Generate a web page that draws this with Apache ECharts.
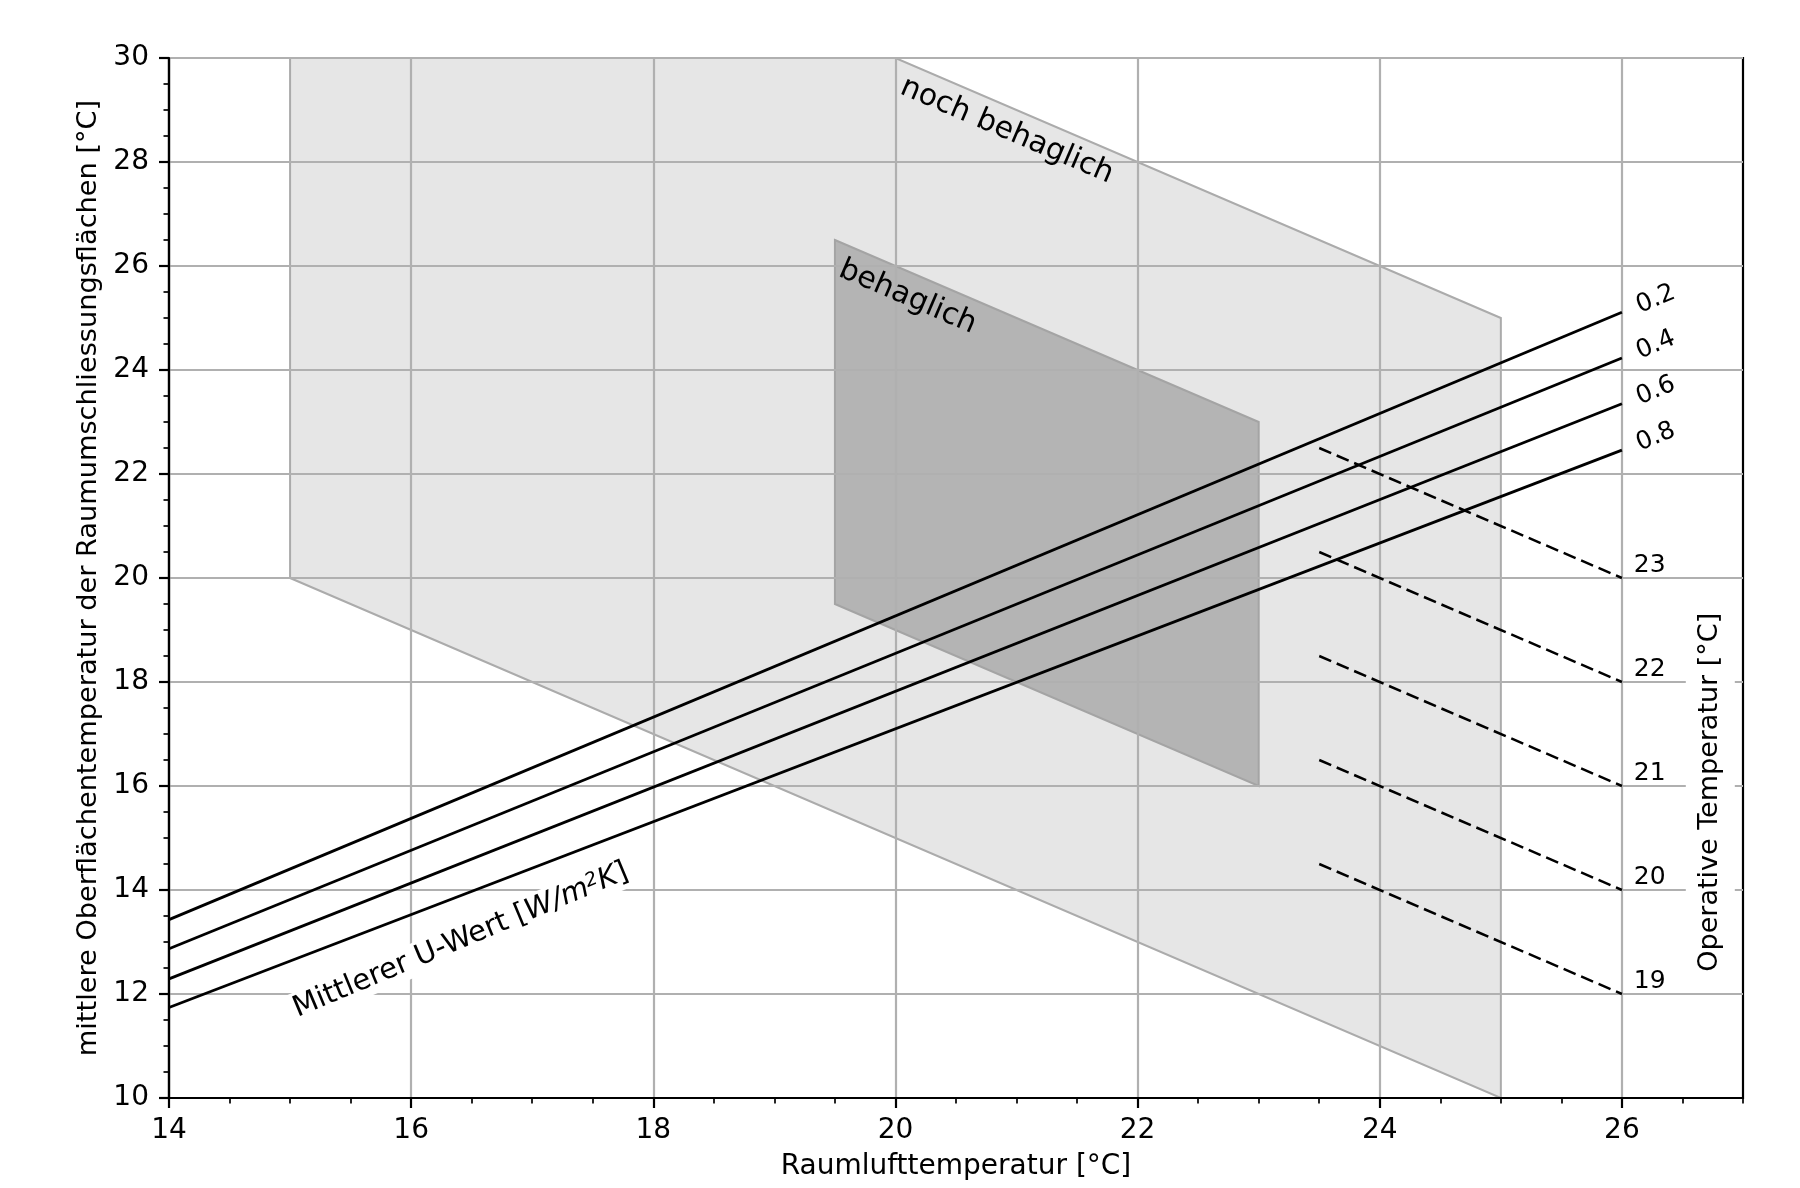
<!DOCTYPE html>
<html>
<head>
<meta charset="utf-8">
<script src="https://cdn.jsdelivr.net/npm/echarts@6/dist/echarts.min.js"></script>
<style>
html, body { margin: 0; padding: 0; background: #fff; }
#chart { width: 1800px; height: 1188px; }
</style>
</head>
<body>
<div id="chart"></div>
<script>
// Behaglichkeitsfelder: Raumluft- gegen Oberflaechentemperatur
var xTicks = [14, 16, 18, 20, 22, 24, 26];

// mittlerer U-Wert, Geraden von x=14 bis x=26
var uLabels = ['0.2', '0.4', '0.6', '0.8'];
var uX = [14, 26];
var uStart = [13.43, 12.87, 12.29, 11.74];
var uEnd = [25.11, 24.23, 23.35, 22.46];

// operative Temperatur, gestrichelt von x=23.5 bis x=26
var opLabels = ['23', '22', '21', '20', '19'];
var opX = [23.5, 26];
var opStart = [22.5, 20.5, 18.5, 16.5, 14.5];
var opEnd = [20, 18, 16, 14, 12];

// Flaechen
var nochBehaglich = [[15, 30], [20, 30], [25, 25], [25, 10], [15, 20]];
var behaglich = [[19.5, 26.5], [23, 23], [23, 16], [19.5, 19.5]];

var FONT = 'DejaVu Sans';
var myChart = echarts.init(document.getElementById('chart'));

function polygonSeries (points, fill, stroke) {
    return {
        type: 'custom',
        z: -1,
        silent: true,
        data: points,
        renderItem: function (params, api) {
            if (params.dataIndex !== 0) return null;
            return {
                type: 'polygon',
                shape: { points: points.map(function (p) { return api.coord(p); }) },
                style: { fill: fill, stroke: stroke, lineWidth: 2 }
            };
        }
    };
}

var series = [
    polygonSeries(nochBehaglich, '#e6e6e6', '#ababab'),
    polygonSeries(behaglich, '#b4b4b4', '#a4a4a4')
];

uLabels.forEach(function (u, i) {
    series.push({
        type: 'line', name: 'U ' + u, symbol: 'none', silent: true,
        lineStyle: { color: '#000', width: 2.8 },
        data: [[uX[0], uStart[i]], [uX[1], uEnd[i]]]
    });
});
opLabels.forEach(function (t, i) {
    series.push({
        type: 'line', name: 'Top ' + t, symbol: 'none', silent: true,
        lineStyle: { color: '#000', width: 2.5, type: [13, 6] },
        data: [[opX[0], opStart[i]], [opX[1], opEnd[i]]]
    });
});

// Beschriftungen
var notes = [
    { value: [20.92, 28.6], text: 'noch behaglich', label: { rotate: -23.2 } },
    { value: [20.1, 25.4], text: 'behaglich', label: { rotate: -23.2 } },
    { value: [16.41, 13.03], text: 'Mittlerer U-Wert [{it|W/m}{sup|2}{it|K}]',
      label: { rotate: 22.7, fontSize: 29, backgroundColor: '#fff', padding: [2, 6] } },
    { value: [26.73, 15.88], text: 'Operative Temperatur [°C]',
      label: { rotate: 90, fontSize: 27, backgroundColor: '#fff', padding: [11, 6] } }
];
uLabels.forEach(function (u, i) {
    notes.push({ value: [26.28, uEnd[i] + 0.25], text: u, label: { rotate: 22.7, fontSize: 25 } });
});
opLabels.forEach(function (t, i) {
    notes.push({ value: [26.23, opEnd[i] + 0.24], text: t, label: { fontSize: 25 } });
});

series.push({
    type: 'scatter', symbolSize: 0, silent: true, z: 5,
    itemStyle: { opacity: 1 },
    data: notes,
    label: {
        show: true, position: 'inside', color: '#000', opacity: 1,
        textBorderWidth: 0, textShadowBlur: 0,
        fontFamily: FONT, fontSize: 30,
        formatter: function (p) { return p.data.text; },
        rich: {
            it: { fontFamily: FONT, fontSize: 29, fontStyle: 'italic', color: '#000', textBorderWidth: 0 },
            sup: { fontFamily: FONT, fontSize: 19, fontStyle: 'italic', color: '#000', textBorderWidth: 0,
                   verticalAlign: 'top', lineHeight: 19 }
        }
    }
});

var option = {
    animation: false,
    backgroundColor: '#fff',
    textStyle: { fontFamily: FONT },
    grid: {
        left: 169, right: 57, top: 58, bottom: 90,
        show: true, borderColor: '#000', borderWidth: 2.2, backgroundColor: 'transparent'
    },
    xAxis: [
        {
            type: 'value', min: 14, max: 27, interval: 2, position: 'bottom',
            name: 'Raumlufttemperatur [°C]', nameLocation: 'middle', nameGap: 55,
            nameTextStyle: { fontFamily: FONT, fontSize: 28, color: '#000' },
            axisLine: { show: true, lineStyle: { color: '#000', width: 2.2 } },
            axisTick: { show: true, length: 10, customValues: xTicks, lineStyle: { color: '#000', width: 2.2 } },
            axisLabel: { customValues: xTicks, margin: 19, fontFamily: FONT, fontSize: 28, color: '#000',
                formatter: function (v) { return v % 2 === 0 ? String(v) : ''; } },
            splitLine: { show: true, lineStyle: { color: '#b0b0b0', width: 2.2 } }
        },
        {
            type: 'value', min: 14, max: 27, interval: 0.5, position: 'bottom',
            axisLine: { show: false },
            axisTick: { show: true, length: 5.5, lineStyle: { color: '#000', width: 1.7 } },
            axisLabel: { show: false },
            splitLine: { show: false }
        }
    ],
    yAxis: {
        type: 'value', min: 10, max: 30, interval: 2,
        name: 'mittlere Oberflächentemperatur der Raumumschliessungsflächen [°C]',
        nameLocation: 'middle', nameGap: 67,
        nameTextStyle: { fontFamily: FONT, fontSize: 27.2, color: '#000' },
        axisLine: { show: true, lineStyle: { color: '#000', width: 2.2 } },
        axisTick: { show: true, length: 10, lineStyle: { color: '#000', width: 2.2 } },
        minorTick: { show: true, splitNumber: 4, length: 5.5, lineStyle: { color: '#000', width: 1.7 } },
        axisLabel: { margin: 20, fontFamily: FONT, fontSize: 28, color: '#000' },
        splitLine: { show: true, lineStyle: { color: '#b0b0b0', width: 2.2 } }
    },
    series: series
};

myChart.setOption(option);
</script>
</body>
</html>
